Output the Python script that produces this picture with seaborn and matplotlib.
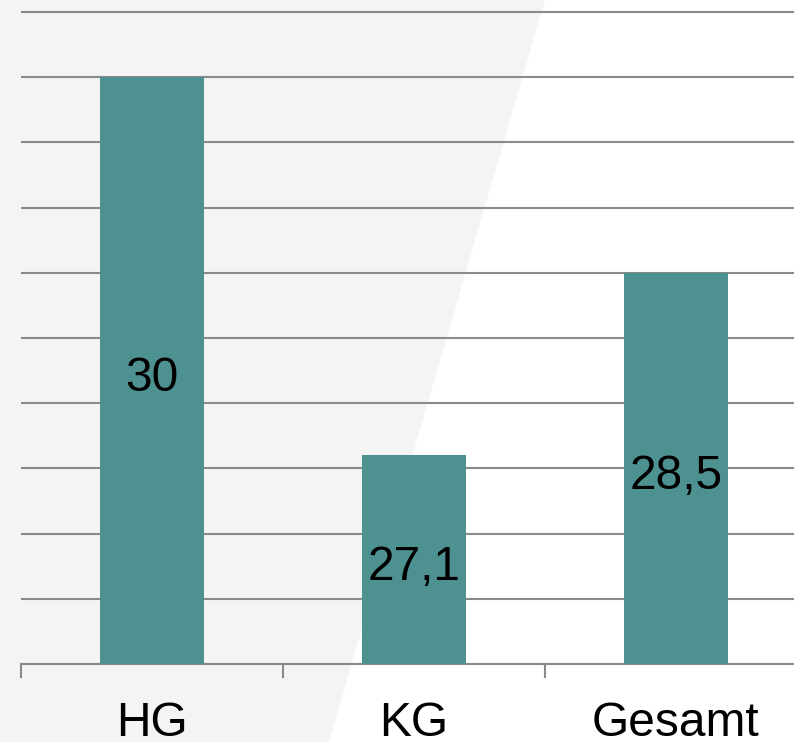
import matplotlib
matplotlib.use("Agg")
import matplotlib.pyplot as plt
from matplotlib.patches import Polygon
import seaborn as sns
import pandas as pd

# Data
groups = ["HG", "KG", "Gesamt"]
values = [30.0, 27.1, 28.5]

y_min, y_max = 25.5, 30.6
grid_ticks = [25.5, 26.0, 26.5, 27.0, 27.5, 28.0, 28.5, 29.0, 29.5, 30.0, 30.5]

df = pd.DataFrame({"Gruppe": groups, "Wert": values})

sns.set_theme(style="white")
plt.rcParams["font.family"] = ["Liberation Sans", "DejaVu Sans"]

bar_color = "#4e9191"
line_color = "#8a8a8a"

fig = plt.figure(figsize=(7.94, 7.42), dpi=100)
fig.patch.set_facecolor("white")

# light grey slanted panel behind the left part of the chart
fig.patches.append(Polygon([(0, 0), (329 / 794, 0), (545 / 794, 1), (0, 1)],
                           closed=True, transform=fig.transFigure,
                           facecolor="#f4f4f4", edgecolor="none", zorder=-10))

ax = fig.add_axes([21 / 794, 78 / 742, 786 / 794, 665 / 742])
ax.set_zorder(5)
ax.set_facecolor("none")

sns.barplot(data=df, x="Gruppe", y="Wert", color=bar_color, width=0.4,
            saturation=1, linewidth=0, ax=ax, zorder=3)

ax.set_xlim(-0.5, 2.5)
ax.set_ylim(y_min, y_max)

# horizontal grid
ax.set_yticks(grid_ticks)
ax.set_yticklabels([])
ax.tick_params(axis="y", length=0)
ax.grid(axis="y", color=line_color, linewidth=1.5, zorder=1)
ax.set_axisbelow(True)

# category labels centred, tick marks on the category boundaries
ax.set_xticks(range(len(groups)))
ax.set_xticklabels(groups, fontsize=34.5, color="black")
ax.tick_params(axis="x", which="major", bottom=False, length=0, pad=27)
ax.set_xticks([-0.5, 0.5, 1.5], minor=True)
ax.tick_params(axis="x", which="minor", bottom=True, length=10, width=1.5,
               color=line_color)

ax.set_xlabel("")
ax.set_ylabel("")

for side in ["top", "right", "left"]:
    ax.spines[side].set_visible(False)
ax.spines["bottom"].set_color(line_color)
ax.spines["bottom"].set_linewidth(1.5)

# value labels centred inside the visible part of each bar
for i, v in enumerate(values):
    label = f"{v:g}".replace(".", ",")
    ax.annotate(label, xy=(i, (y_min + v) / 2), xytext=(0, -5.5),
                textcoords="offset points", ha="center", va="center",
                fontsize=34.5, color="black", zorder=4)

fig.savefig("out.png", dpi=100)
